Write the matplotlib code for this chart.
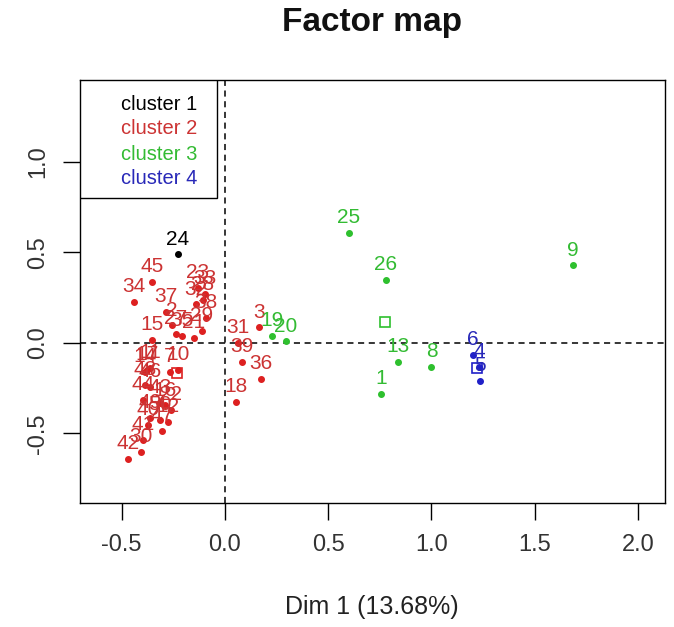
import matplotlib
matplotlib.use("Agg")
import matplotlib.pyplot as plt
from matplotlib.patches import Rectangle

plt.rcParams['font.family'] = ['Liberation Sans', 'DejaVu Sans']

# ---- data ----
c1_labels = ["24"]
c1_x = [-0.228]
c1_y = [0.49]

c2_labels = ["45", "34", "37", "23", "33", "32", "28", "38", "2", "35",
             "3", "31", "39", "36", "18", "15", "21", "29", "27", "10",
             "17", "11", "14", "7", "48", "46", "44", "16", "43", "50",
             "49", "40", "12", "47", "41", "42", "30", "22"]
c2_x = [-0.354, -0.441, -0.286, -0.131, -0.097, -0.140, -0.107, -0.092, -0.257, -0.208,
        0.165, 0.063, 0.082, 0.174, 0.053, -0.354, -0.150, -0.111, -0.237, -0.228,
        -0.378, -0.363, -0.387, -0.266, -0.387, -0.363, -0.397, -0.291, -0.315, -0.315,
        -0.363, -0.373, -0.276, -0.305, -0.397, -0.470, -0.407, -0.262]
c2_y = [0.337, 0.227, 0.171, 0.304, 0.271, 0.215, 0.238, 0.138, 0.099, 0.039,
        0.088, 0.000, -0.105, -0.199, -0.326, 0.017, 0.028, 0.066, 0.050, -0.149,
        -0.149, -0.138, -0.160, -0.160, -0.232, -0.243, -0.315, -0.343, -0.331, -0.425,
        -0.414, -0.453, -0.436, -0.486, -0.536, -0.641, -0.602, -0.370]

c3_labels = ["25", "26", "9", "19", "20", "13", "8", "1"]
c3_x = [0.60, 0.78, 1.685, 0.23, 0.295, 0.84, 1.00, 0.755]
c3_y = [0.61, 0.35, 0.43, 0.04, 0.01, -0.105, -0.13, -0.28]

c4_labels = ["6", "4", "5"]
c4_x = [1.20, 1.23, 1.235]
c4_y = [-0.066, -0.13, -0.21]

# cluster centres (open squares)
centre_x = [-0.232, 0.775, 1.22]
centre_y = [-0.166, 0.115, -0.14]
centre_cluster = [2, 3, 4]

legend_labels = ["cluster 1", "cluster 2", "cluster 3", "cluster 4"]
title = "Factor map"
xlabel = "Dim 1 (13.68%)"
xticks = [-0.5, 0.0, 0.5, 1.0, 1.5, 2.0]
yticks = [-0.5, 0.0, 0.5, 1.0]

colors = {1: "black", 2: "#DD2020", 3: "#2EC02E", 4: "#2020C8"}
text_colors = {1: "black", 2: "#CC3333", 3: "#33BB33", 4: "#2828B8"}

# ---- figure ----
W, H = 674, 627
fig = plt.figure(figsize=(W / 100, H / 100), dpi=100)
ax = fig.add_axes([80 / W, 1 - 503 / H, 585 / W, 423 / H])
ax.set_xlim(-0.702, 2.131)
ax.set_ylim(-0.884, 1.453)

ax.axhline(0, color="black", linestyle=(0, (4, 3)), linewidth=1.1, zorder=1)
ax.axvline(0, color="black", linestyle=(0, (4, 3)), linewidth=1.1, zorder=1)

groups = [(1, c1_labels, c1_x, c1_y), (2, c2_labels, c2_x, c2_y),
          (3, c3_labels, c3_x, c3_y), (4, c4_labels, c4_x, c4_y)]
for k, labs, xs, ys in groups:
    col = colors[k]
    ax.plot(xs, ys, linestyle="none", marker="o", markersize=4, color=col, zorder=3)
    for lab, x, y in zip(labs, xs, ys):
        ax.annotate(lab, (x, y), xytext=(0, 4), textcoords="offset points",
                    ha="center", va="bottom", fontsize=15, color=text_colors[k], zorder=4)

for k, x, y in zip(centre_cluster, centre_x, centre_y):
    ax.plot([x], [y], linestyle="none", marker="s", markersize=7,
            markerfacecolor="none", markeredgecolor=colors[k], markeredgewidth=1.2, zorder=3)

# legend box
lx0, ly0 = 0.0, 1 - (198 - 80) / 423
lw, lh = (217 - 80) / 585, (198 - 80) / 423
ax.add_patch(Rectangle((lx0, ly0), lw, lh, transform=ax.transAxes, facecolor="white",
                       edgecolor="black", linewidth=1.0, zorder=5))
for i, lab in enumerate(legend_labels):
    ypix = 104 + i * 25
    ax.text((121 - 80) / 585, 1 - (ypix - 80) / 423, lab, transform=ax.transAxes,
            ha="left", va="center", fontsize=14.5, color=text_colors[i + 1], zorder=6)

ax.set_xticks(xticks)
ax.set_xticklabels([f"{v:.1f}" for v in xticks])
ax.set_yticks(yticks)
ax.set_yticklabels([f"{v:.1f}" for v in yticks], rotation=90, va="center")
ax.tick_params(axis="both", length=12, width=1.0, labelsize=17, pad=10, color="black",
               labelcolor="#333333")
for s in ax.spines.values():
    s.set_linewidth(1.0)

fig.text(372 / W, 1 - 607 / H, xlabel, ha="center", va="center", fontsize=18, color="#222222")
fig.text(372 / W, 1 - 22 / H, title, ha="center", va="center", fontsize=24,
         fontweight="bold", color="#111111")

fig.savefig("out.png", dpi=100)
